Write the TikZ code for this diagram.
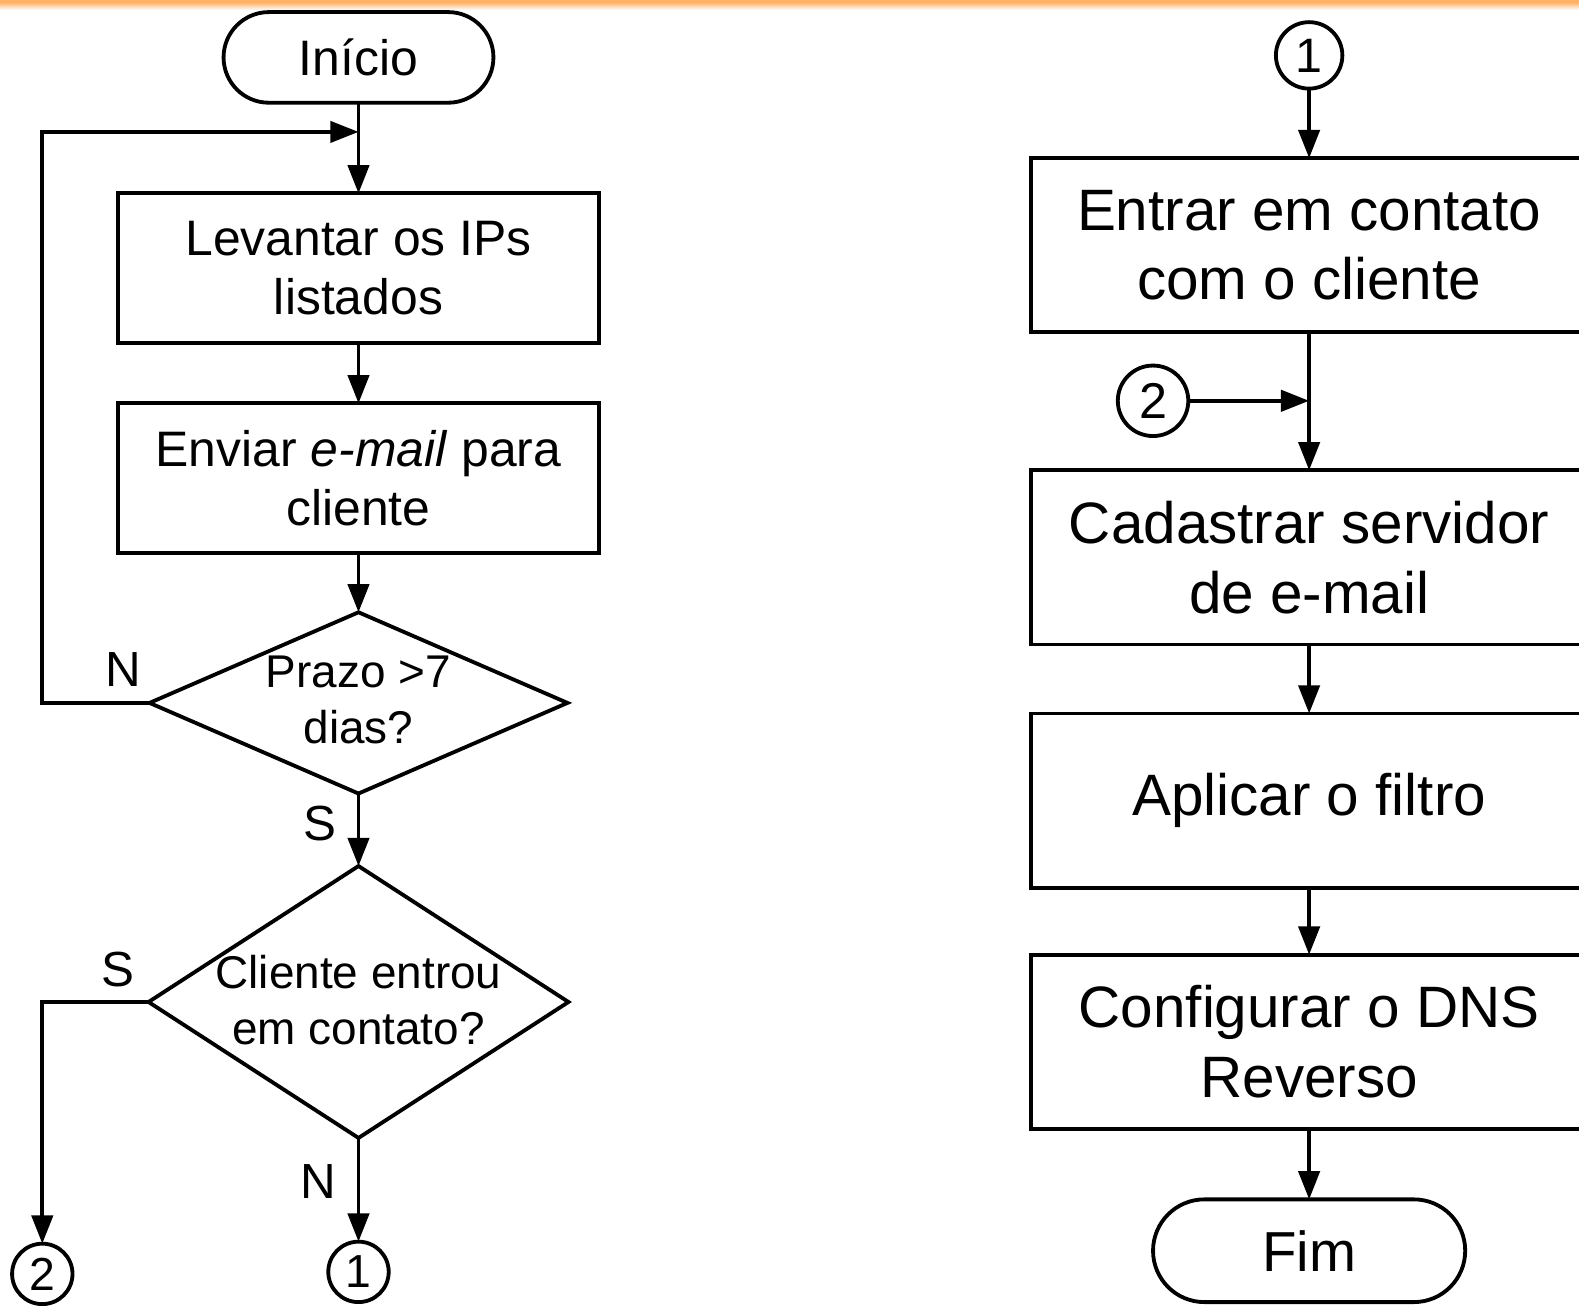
\documentclass[tikz,border=0pt]{standalone}
\usepackage{fontspec}
\setmainfont{Liberation Sans}
\usetikzlibrary{shapes.geometric,shapes.misc,arrows.meta}
\begin{document}
\begin{tikzpicture}[x=1pt,y=-1pt,
  every node/.style={inner sep=0pt,outer sep=0pt},
  ln/.style={line width=3.8pt},
  arr/.style={ln,-{Triangle[length=28pt,width=21pt]}},
  term/.style={draw,ln,rounded rectangle,font=\fontsize{49.5}{59}\selectfont},
  lbox/.style={draw,ln,minimum width=478pt,minimum height=149pt,align=center,font=\fontsize{49.5}{59}\selectfont},
  rbox/.style={draw,ln,minimum width=552pt,minimum height=173pt,align=center,font=\fontsize{58}{69}\selectfont},
  dec/.style={draw,ln,diamond},
  dtext/.style={align=center,font=\fontsize{45.6}{55}\selectfont},
  conn/.style={draw,ln,circle,font=\fontsize{46}{46}\selectfont},
  lab/.style={font=\fontsize{49}{49}\selectfont}
]
\useasboundingbox (0,0) rectangle (1568,1296);
\fill[white] (0,0) rectangle (1568,1296);
\fill[orange!60!white] (0,0) rectangle (1568,3);
\shade[top color=orange!55!white,bottom color=white] (0,3) rectangle (1568,10);

% left column
\node[term,minimum width=268pt,minimum height=90pt] (ini) at (356,57) {Início};
\node[lbox] (b1) at (356,266.5) {Levantar os IPs\\listados};
\node[lbox] (b2) at (356,475) {Enviar \textit{e-mail} para\\cliente};
\node[dec,minimum width=415pt,minimum height=180pt] (d1) at (356,698) {};
\node[dtext] (t1) at (356,695) {Prazo >7\\dias?};
\node[dec,minimum width=417pt,minimum height=270pt] (d2) at (356,995) {};
\node[dtext] (t2) at (356,993) {Cliente entrou\\em contato?};
\node[conn,minimum size=60pt] (c1L) at (356,1263) {1};
\node[conn,minimum size=60pt] (c2L) at (42,1265) {2};
\coordinate (lp) at (ini.south |- 0,131);
\coordinate (lc) at (42,131);

\draw[arr] (ini.south) -- (b1.north);
\draw[arr] (d1.west) -- (42,698) -- (lc) -- (lp);
\draw[arr] (b1.south) -- (b2.north);
\draw[arr] (b2.south) -- (d1.north);
\draw[arr] (d1.south) -- (d2.north);
\draw[arr] (d2.west) -- (c2L.north |- d2.west) -- (c2L.north);
\draw[arr] (d2.south) -- (c1L.north);

\node[lab] (n1) at (122,665) {N};
\node[lab] (s1) at (318,818) {S};
\node[lab] (s2) at (117,963) {S};
\node[lab] (n2) at (316,1173) {N};

% right column
\node[conn,minimum size=66pt,font=\fontsize{48}{48}\selectfont] (c1R) at (1300,55) {1};
\node[rbox] (r1) at (1300,243.5) {Entrar em contato\\com o cliente};
\node[rbox] (r2) at (1300,553.5) {Cadastrar servidor\\de e-mail};
\node[rbox] (r3) at (1300,795) {Aplicar o filtro};
\node[rbox] (r4) at (1300,1034.5) {Configurar o DNS\\Reverso};
\node[term,minimum width=310pt,minimum height=102pt,font=\fontsize{56}{66}\selectfont] (fim) at (1300,1242) {Fim};
\node[conn,minimum size=70pt,font=\fontsize{50}{50}\selectfont] (c2R) at (1145,398) {2};
\coordinate (j) at (r1.south |- c2R.east);

\draw[arr] (c1R.south) -- (r1.north);
\draw[arr] (r1.south) -- (r2.north);
\draw[arr] (c2R.east) -- (j);
\draw[arr] (r2.south) -- (r3.north);
\draw[arr] (r3.south) -- (r4.north);
\draw[arr] (r4.south) -- (fim.north);
\end{tikzpicture}
\end{document}
